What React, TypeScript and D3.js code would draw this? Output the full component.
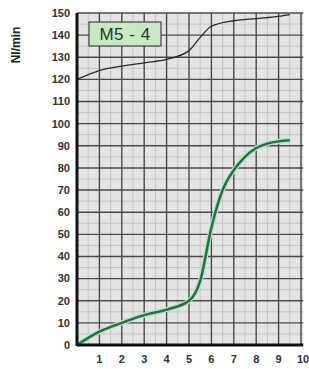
import React from 'react';
import {scaleLinear, line, curveMonotoneX, range} from 'd3';

const xTicks = [1, 2, 3, 4, 5, 6, 7, 8, 9, 10];
const yTicks = [0, 10, 20, 30, 40, 50, 60, 70, 80, 90, 100, 110, 120, 130, 140, 150];

// upper (black) curve
const topX = [0, 1, 2, 3, 4, 5, 5.5, 6, 7, 8, 9, 9.5];
const topY = [120, 124, 126, 127.5, 129, 133, 139, 144, 146.5, 147.5, 148.5, 149.3];

// lower (green) curve
const greenX = [0, 1, 2, 3, 4, 5, 5.5, 6, 6.5, 7, 7.5, 8, 8.5, 9, 9.5];
const greenY = [0, 6, 10, 13.5, 16, 20, 29, 53, 70, 79, 85, 89, 91, 92, 92.5];

const width = 309;
const height = 369;
const left = 77;
const right = 301;
const top = 13;
const bottom = 345;

export default function App() {
    const x = scaleLinear().domain([0, 10]).range([left, right]);
    const y = scaleLinear().domain([0, 150]).range([bottom, top]);

    const path = line<[number, number]>()
        .x(d => x(d[0]))
        .y(d => y(d[1]))
        .curve(curveMonotoneX);

    const topData = topX.map((v, i) => [v, topY[i]] as [number, number]);
    const greenData = greenX.map((v, i) => [v, greenY[i]] as [number, number]);

    return (
        <svg width={width} height={height}
             style={{position: 'absolute', left: 0, top: 0, fontFamily: 'Liberation Sans, Arial, sans-serif'}}>
            <rect width={width} height={height} fill="#fff"/>
            <rect x={left} y={top} width={x(10.1) - left} height={bottom - top} fill="#e4e4e4"/>
            {/* minor grid */}
            {range(0.5, 10, 1).map(v => (
                <line key={'mx' + v} x1={x(v)} x2={x(v)} y1={top} y2={bottom} stroke="#c6c6c6" strokeWidth={1}/>
            ))}
            {range(5, 150, 10).map(v => (
                <line key={'my' + v} x1={left} x2={x(10.1)} y1={y(v)} y2={y(v)} stroke="#c6c6c6" strokeWidth={1}/>
            ))}
            {/* major grid */}
            {xTicks.map(v => (
                <line key={'gx' + v} x1={x(v)} x2={x(v)} y1={top} y2={bottom} stroke="#4a4a4a" strokeWidth={1.4}/>
            ))}
            {yTicks.filter(v => v > 0).map(v => (
                <line key={'gy' + v} x1={left} x2={x(10.1)} y1={y(v)} y2={y(v)} stroke="#4a4a4a" strokeWidth={1.4}/>
            ))}
            {/* curves */}
            <path d={path(topData) || ''} fill="none" stroke="#2a2a2a" strokeWidth={1.3}/>
            <path d={path(greenData) || ''} fill="none" stroke="#a8e6c4" strokeWidth={5}/>
            <path d={path(greenData) || ''} fill="none" stroke="#2f6a45" strokeWidth={2.5}/>
            {/* axes */}
            <line x1={left} x2={left} y1={top} y2={bottom + 1} stroke="#111" strokeWidth={3}/>
            <line x1={left} x2={x(10.1)} y1={bottom} y2={bottom} stroke="#111" strokeWidth={3}/>
            {/* tick labels */}
            {yTicks.map(v => (
                <text key={'ty' + v} x={70} y={y(v)} dy="0.35em" textAnchor="end" fontSize={11}
                      fontWeight="bold" fill="#333">{v}</text>
            ))}
            {xTicks.map(v => (
                <text key={'tx' + v} x={x(v) + (v === 10 ? 2 : 0)} y={359} dy="0.35em" textAnchor="middle"
                      fontSize={11} fontWeight="bold" fill="#333">{v}</text>
            ))}
            <text transform="translate(16,45) rotate(-90)" textAnchor="middle" dy="0.35em" fontSize={12}
                  fontWeight="bold" fill="#222">Nl/min</text>
            {/* label box */}
            <rect x={89} y={22} width={72} height={24} fill="#c9e8c4" stroke="#444" strokeWidth={1.2}/>
            <text x={125} y={34} dy="0.36em" textAnchor="middle" fontSize={17} letterSpacing={0.5}
                  fill="#1f3a22">M5 - 4</text>
        </svg>
    );
}
